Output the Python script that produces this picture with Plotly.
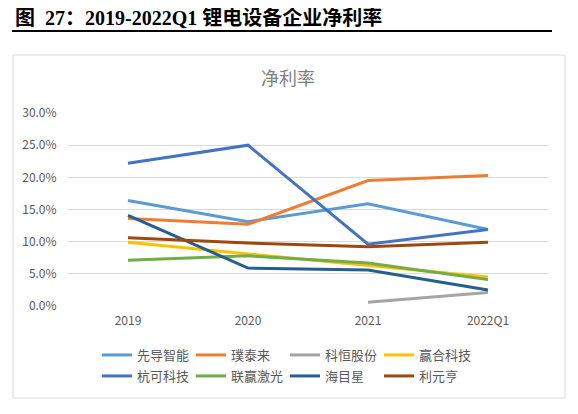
import plotly.graph_objects as go

W, H = 578, 414

categories = ["2019", "2020", "2021", "2022Q1"]

companies = ["先导智能", "璞泰来", "科恒股份", "赢合科技", "杭可科技", "联赢激光", "海目星", "利元亨"]
xiandao = [0.164, 0.131, 0.159, 0.119]
putailai = [0.136, 0.127, 0.195, 0.203]
keheng = [None, None, 0.006, 0.021]
yinghe = [0.099, 0.081, 0.063, 0.045]
hangke = [0.222, 0.250, 0.096, 0.119]
lianying = [0.071, 0.078, 0.067, 0.041]
haimuxing = [0.141, 0.059, 0.056, 0.025]
liyuanheng = [0.106, 0.098, 0.092, 0.099]

colors = ["#5B9BD5", "#ED7D31", "#A5A5A5", "#FFC000", "#4472C4", "#70AD47", "#255E91", "#9E480E"]
series = [xiandao, putailai, keheng, yinghe, hangke, lianying, haimuxing, liyuanheng]

fig = go.Figure()
for i, (name, vals, c) in enumerate(zip(companies, series, colors)):
    # first four names in the top legend row, the rest in the second row
    fig.add_trace(go.Scatter(x=categories, y=vals, name=name, mode="lines",
                             line=dict(color=c, width=3), connectgaps=False,
                             legend="legend" if i < 4 else "legend2"))

# the page body adds an 8px offset, so place everything 8px up/left
OFF = 8


def px(x):
    return (x - OFF) / W


def py(y):
    return 1 - (y - OFF) / H


legend_style = dict(orientation="h", xanchor="left", yanchor="middle",
                    entrywidth=49, entrywidthmode="pixels",
                    font=dict(size=13, color="#595959"), itemwidth=30,
                    bgcolor="rgba(0,0,0,0)")

fig.update_layout(
    width=W, height=H,
    margin=dict(l=0, r=0, t=0, b=0),
    paper_bgcolor="white", plot_bgcolor="white",
    font=dict(family="Noto Sans CJK SC, DejaVu Sans", color="#595959", size=12),
    showlegend=True,
    legend=dict(legend_style, x=px(97), y=py(355)),
    legend2=dict(legend_style, x=px(97), y=py(376)),
    xaxis=dict(domain=[px(68), px(548)], range=[-0.5, 3.5], showgrid=False, zeroline=False,
               showline=False, ticks="", automargin=False, ticklabelstandoff=6,
               tickfont=dict(size=12, color="#595959")),
    yaxis=dict(domain=[py(306), py(113)], range=[0, 0.30], dtick=0.05, tickformat=".1%",
               showgrid=True, gridcolor="#D9D9D9", gridwidth=1, zeroline=False,
               showline=False, ticks="outside", ticklen=8, tickcolor="rgba(0,0,0,0)",
               automargin=False, tickfont=dict(size=12, color="#595959")),
    shapes=[
        dict(type="line", xref="paper", yref="paper", x0=px(12), x1=px(552), y0=py(31), y1=py(31),
             line=dict(color="black", width=2)),
        dict(type="rect", xref="paper", yref="paper", x0=px(13), x1=px(565), y0=py(398), y1=py(55),
             line=dict(color="#D9D9D9", width=1)),
    ],
    annotations=[
        dict(text="<b>图  27：2019-2022Q1 锂电设备企业净利率</b>", xref="paper", yref="paper",
             x=px(14), y=py(18), xanchor="left", yanchor="middle", showarrow=False, borderpad=0,
             font=dict(family="Liberation Serif, Noto Sans CJK SC", size=20, color="black")),
        dict(text="净利率", xref="paper", yref="paper", x=px(288), y=py(77),
             xanchor="center", yanchor="middle", showarrow=False,
             font=dict(size=18, color="#7F7F7F")),
    ],
)

fig.write_html("out.html")
